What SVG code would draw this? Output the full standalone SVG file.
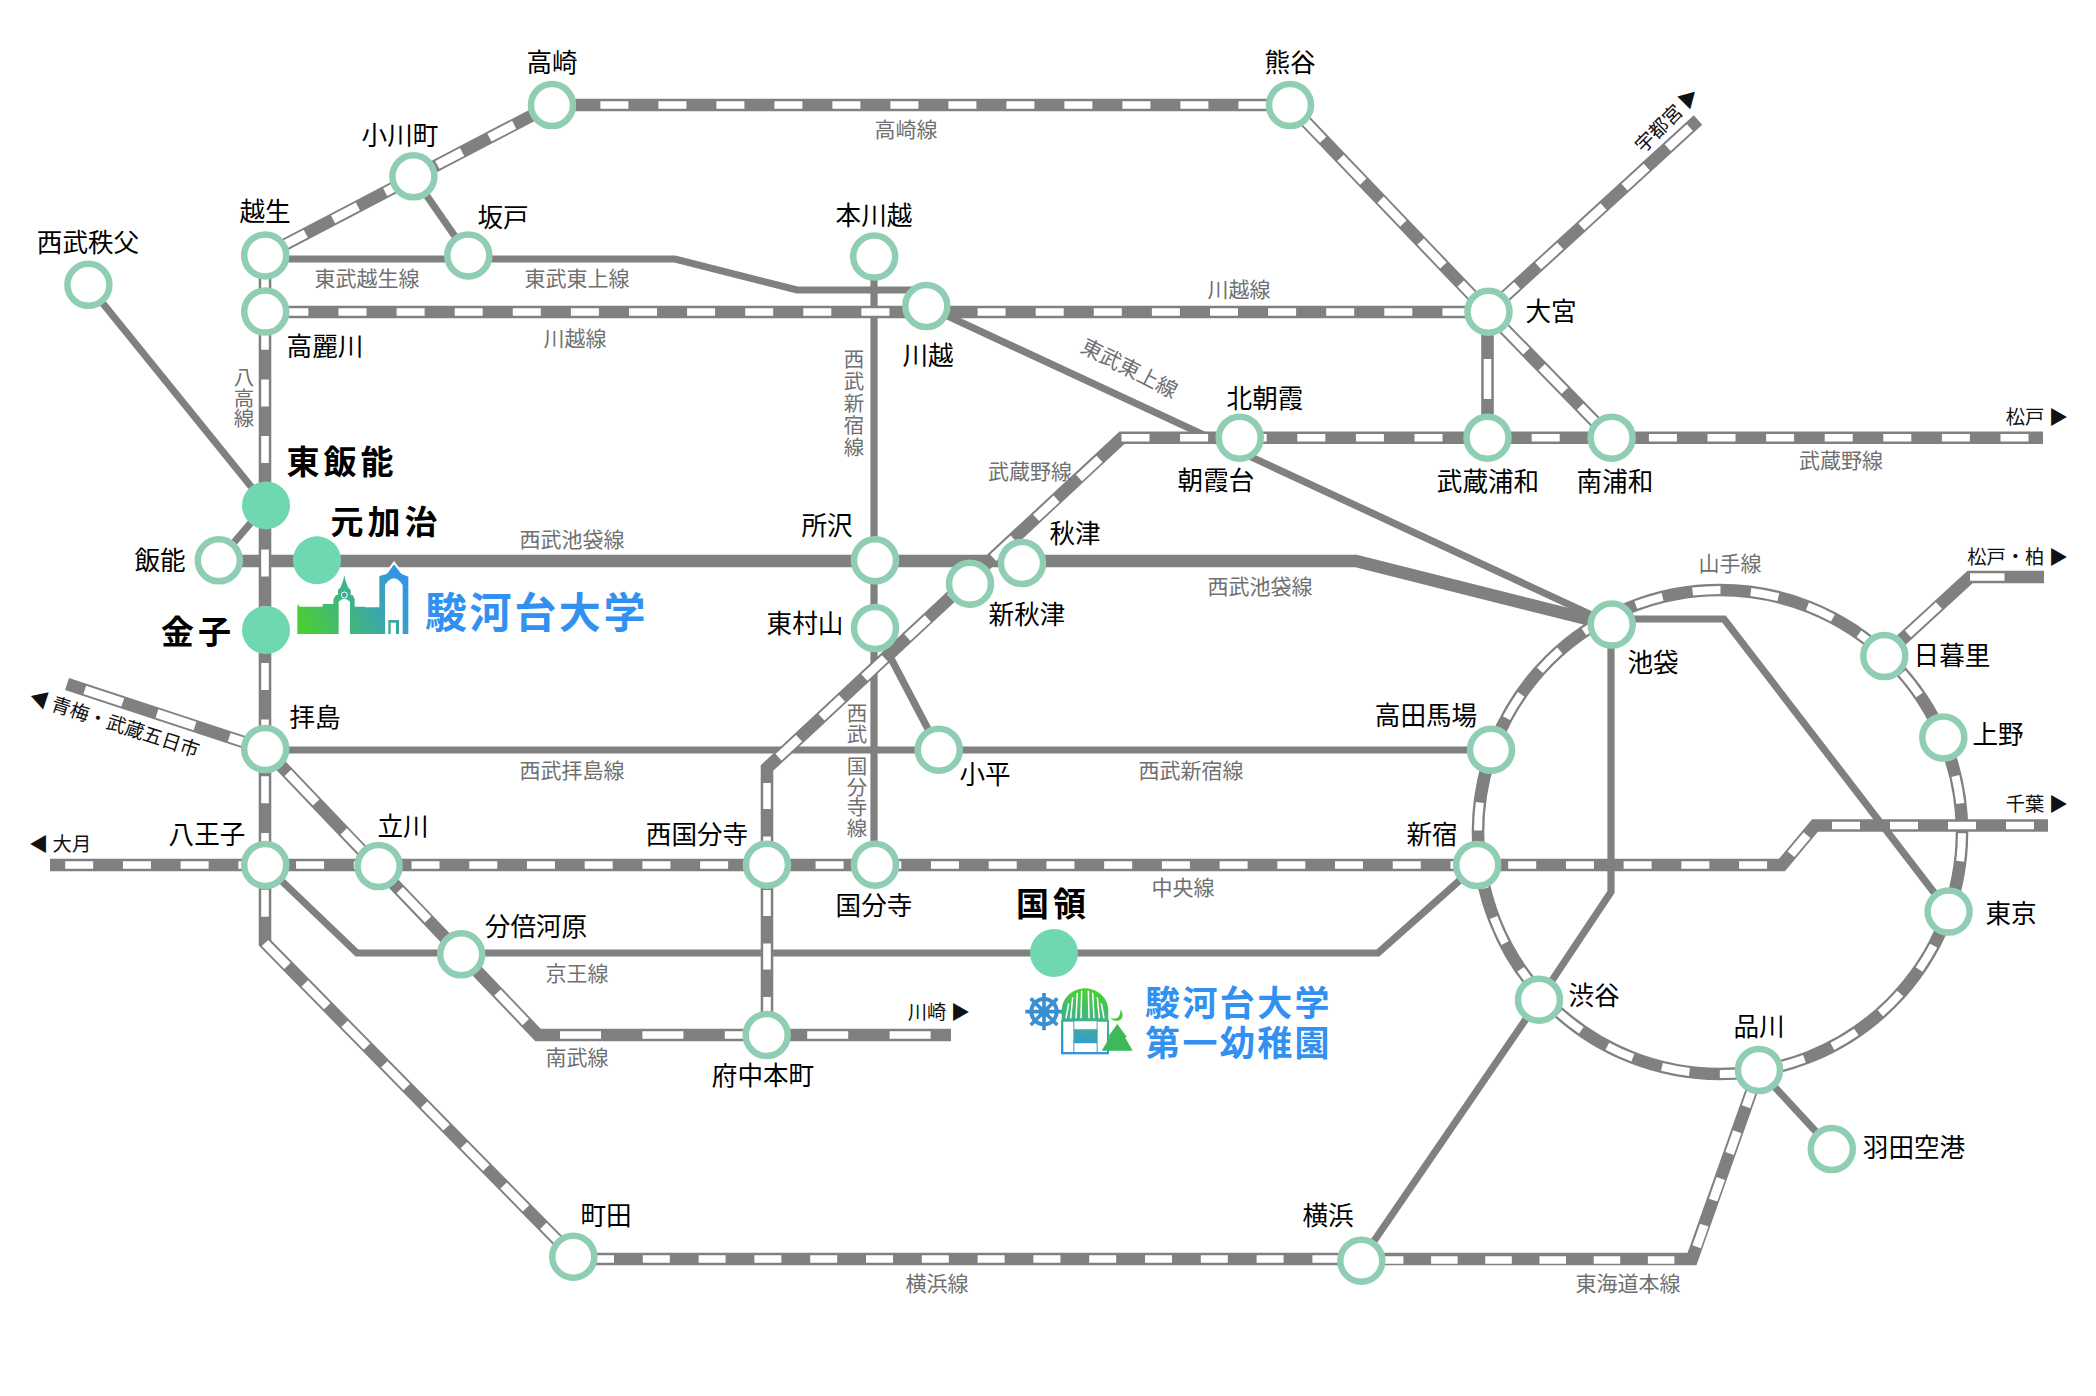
<svg xmlns="http://www.w3.org/2000/svg" width="2096" height="1396" viewBox="0 0 2096 1396">
<style>
text{font-family:"Noto Sans CJK JP","Noto Sans",sans-serif}
.r{fill:none;stroke:#808080;stroke-width:12.600;stroke-linejoin:miter}
.s{fill:none;stroke:#808080;stroke-width:7.200;stroke-linejoin:miter}
.w{fill:none;stroke:#fff;stroke-width:7.600;stroke-dasharray:28 30}
.d{fill:none;stroke:#fff;stroke-width:8.800}
.st{fill:#fff;stroke:#8fceb3;stroke-width:6.500}
.my{fill:#6fd8b0}
.lb{font-size:25.600px;fill:#000;text-anchor:middle}
.big{font-size:33px;font-weight:700;letter-spacing:4px;fill:#000;text-anchor:middle}
.ln{font-size:21px;fill:#707070;text-anchor:middle}
.vt{font-size:20.500px;fill:#707070;writing-mode:vertical-rl;text-anchor:start}
.tm{font-size:19.300px;fill:#111;text-anchor:end}
.sch{font-weight:700;fill:#3291f0}
</style>
<defs>
<linearGradient id="gb" gradientUnits="userSpaceOnUse" x1="142" y1="402" x2="475" y2="230"><stop offset="0" stop-color="#4cd12a"/><stop offset="1" stop-color="#3291f0"/></linearGradient>
<linearGradient id="gk" gradientUnits="userSpaceOnUse" x1="330" y1="115" x2="300" y2="312"><stop offset="0" stop-color="#4cd12a"/><stop offset="1" stop-color="#3291f0"/></linearGradient>
</defs>
<g id="connectors">
<path class="s" d="M88,285L266,505L219,560"/>
<path class="s" d="M265,259H675L797,290H926"/>
<path class="s" d="M413,176L468,255"/>
<path class="s" d="M926,306L1611,624"/>
<path class="s" d="M874,257V865"/>
<path class="s" d="M875,628L939,750"/>
<path class="s" d="M265,750H1491"/>
<path class="s" d="M265,865L357,953H1378L1477,865"/>
<path class="s" d="M1612,619H1724L1949,912"/>
<path class="s" d="M1611,625V892L1539,1000L1361,1260"/>
<path class="s" d="M1759,1070L1832,1149"/>
<path class="r" d="M218,561H1356L1611,625"/>
<path class="r" d="M265,255L552,105H1290L1488,312"/>
<path class="r" d="M265,255V943L573,1256"/>
<path class="r" d="M265,312H1488"/>
<path class="r" d="M1698,120L1488,312"/>
<path class="r" d="M1488,312L1611,438"/>
<path class="r" d="M1487.500,312V438"/>
<path class="r" d="M2043,437.700H1122L767,768V1035"/>
<path class="r" d="M67,684L265,749L538,1035H951"/>
<path class="r" d="M50,865H1782L1815,825.500H2048"/>
<path class="r" d="M1884,656L1970,577H2044"/>
<path class="r" d="M573,1259H1692L1759,1070"/>
<circle class="r" cx="1720" cy="832" r="242"/>
<path class="d" d="M265,255L552,105" style="stroke-dasharray:28 30.800;stroke-dashoffset:-18"/>
<path class="w" d="M552,105H1290" style="stroke-dasharray:28 30;stroke-dashoffset:-48.400"/>
<path class="d" d="M1290,105L1488,312" style="stroke-dasharray:33 25;stroke-dashoffset:-15"/>
<path class="w" d="M265,255V943" style="stroke-dasharray:27 29.700;stroke-dashoffset:-11"/>
<path class="d" d="M265,943L573,1256" style="stroke-dasharray:32 24.700"/>
<path class="w" d="M265,312H1488" style="stroke-dasharray:28 30.100;stroke-dashoffset:-15.400"/>
<path class="d" d="M1488,312L1698,120" style="stroke-dasharray:30 28.500;stroke-dashoffset:-9.500"/>
<path class="d" d="M1488,312L1611,438" style="stroke-dasharray:33 22;stroke-dashoffset:-22"/>
<path class="w" d="M1487.500,312V438" style="stroke-dasharray:40 999;stroke-dashoffset:-47"/>
<path class="w" d="M1121.500,437.700H2043" style="stroke-dasharray:28 30.600"/>
<path class="d" d="M1122,438L767,768" style="stroke-dasharray:28 30.600;stroke-dashoffset:-30.700"/>
<path class="w" d="M767,768V1035" style="stroke-dasharray:26 27.500;stroke-dashoffset:-15"/>
<path class="d" d="M67,684L265,749" style="stroke-dasharray:40 36;stroke-dashoffset:-18.700"/>
<path class="d" d="M265,749L461,954" style="stroke-dasharray:41 40;stroke-dashoffset:-33"/>
<path class="d" d="M461,954L538,1035" style="stroke-dasharray:41 999;stroke-dashoffset:-53"/>
<path class="w" d="M537,1035H951" style="stroke-dasharray:41 41.400;stroke-dashoffset:-23"/>
<path class="w" d="M50,865H1782" style="stroke-dasharray:28 29.720;stroke-dashoffset:-15.200"/>
<path class="d" d="M1782,865L1815,825.500" style="stroke-dasharray:25 999;stroke-dashoffset:-14"/>
<path class="w" d="M1815,825.500H2048" style="stroke-dasharray:28 30;stroke-dashoffset:-17"/>
<path class="d" d="M1884,656L1970,577" style="stroke-dasharray:42 999;stroke-dashoffset:-32.600"/>
<path class="w" d="M1970,577H2044" style="stroke-dasharray:34.500 999"/>
<path class="w" d="M573,1259H1361" style="stroke-dasharray:27 28.800;stroke-dashoffset:-14"/>
<path class="w" d="M1361,1260H1692" style="stroke-dasharray:26.500 27.700;stroke-dashoffset:-15.900"/>
<path class="d" d="M1692,1260L1759,1070" style="stroke-dasharray:23 26.500;stroke-dashoffset:-14"/>
<circle class="w" cx="1720" cy="832" r="242" style="stroke-width:8;stroke-dasharray:28 30.480;stroke-dashoffset:-1.300"/>
</g>
<g id="line-labels">
<text class="ln" x="906" y="137">高崎線</text>
<text class="ln" x="367" y="286">東武越生線</text>
<text class="ln" x="577" y="286">東武東上線</text>
<text class="ln" x="575" y="346">川越線</text>
<text class="ln" x="1239" y="297">川越線</text>
<text class="ln" transform="translate(1126,375) rotate(27)">東武東上線</text>
<text class="ln" x="1030" y="479">武蔵野線</text>
<text class="ln" x="1841" y="468">武蔵野線</text>
<text class="ln" x="572" y="547">西武池袋線</text>
<text class="ln" x="1260" y="594">西武池袋線</text>
<text class="ln" x="572" y="778">西武拝島線</text>
<text class="ln" x="1191" y="778">西武新宿線</text>
<text class="ln" x="1183" y="895">中央線</text>
<text class="ln" x="577" y="981">京王線</text>
<text class="ln" x="577" y="1065">南武線</text>
<text class="ln" x="937" y="1291">横浜線</text>
<text class="ln" x="1628" y="1291">東海道本線</text>
<text class="ln" x="1730" y="571">山手線</text>
<text class="vt" x="244" y="367">八高線</text>
<text class="vt" x="854" y="349" letter-spacing="1.500">西武新宿線</text>
<text class="vt" x="857" y="703">西武</text>
<text class="vt" x="857" y="756">国分寺線</text>
<text class="tm" x="2068" y="424">松戸 ▶</text>
<text class="tm" x="2068" y="564">松戸・柏 ▶</text>
<text class="tm" x="2068" y="811">千葉 ▶</text>
<text class="tm" x="970" y="1019">川崎 ▶</text>
<text class="tm" x="29" y="851" style="text-anchor:start">◀ 大月</text>
<text class="tm" transform="translate(112,730) rotate(18)" style="text-anchor:middle">◀ 青梅・武蔵五日市</text>
<text class="tm" transform="translate(1672,125) rotate(-45)" style="text-anchor:middle">宇都宮 ▶</text>
</g>
<g id="n-takasaki"><circle class="st" cx="552" cy="105" r="21"/><text class="lb" x="552" y="72">高崎</text></g>
<g id="n-ogawamachi"><circle class="st" cx="413.400" cy="176.300" r="21"/><text class="lb" x="400" y="145">小川町</text></g>
<g id="n-ogose"><circle class="st" cx="265.200" cy="255.400" r="21"/><text class="lb" x="265" y="221">越生</text></g>
<g id="n-sakado"><circle class="st" cx="468.300" cy="255.400" r="21"/><text class="lb" x="503" y="227">坂戸</text></g>
<g id="n-chichibu"><circle class="st" cx="88.400" cy="284.800" r="21"/><text class="lb" x="88" y="252">西武秩父</text></g>
<g id="n-komagawa"><circle class="st" cx="265.200" cy="311.600" r="21"/><text class="lb" x="325" y="356">高麗川</text></g>
<g id="n-honkawagoe"><circle class="st" cx="874.200" cy="256.600" r="21"/><text class="lb" x="874" y="225">本川越</text></g>
<g id="n-kawagoe"><circle class="st" cx="926.300" cy="306" r="21"/><text class="lb" x="928" y="365">川越</text></g>
<g id="n-kumagaya"><circle class="st" cx="1290" cy="105" r="21"/><text class="lb" x="1290" y="72">熊谷</text></g>
<g id="n-omiya"><circle class="st" cx="1488.500" cy="311.700" r="21"/><text class="lb" x="1551" y="321">大宮</text></g>
<g id="n-asaka"><circle class="st" cx="1239.700" cy="437.700" r="21"/><text class="lb" x="1265" y="408">北朝霞</text><text class="lb" x="1216" y="490">朝霞台</text></g>
<g id="n-musashiurawa"><circle class="st" cx="1487.500" cy="437.700" r="21"/><text class="lb" x="1488" y="491">武蔵浦和</text></g>
<g id="n-minamiurawa"><circle class="st" cx="1611.600" cy="437.700" r="21"/><text class="lb" x="1615" y="491">南浦和</text></g>
<g id="n-higashihanno"><circle class="my" cx="266" cy="505.400" r="24"/><text class="big" x="342" y="474">東飯能</text></g>
<g id="n-motokaji"><circle class="my" cx="317" cy="560.300" r="24"/><text class="big" x="386" y="534">元加治</text></g>
<g id="n-kaneko"><circle class="my" cx="266" cy="630" r="24"/><text class="big" x="198" y="644">金子</text></g>
<g id="n-hanno"><circle class="st" cx="218.800" cy="560.300" r="21"/><text class="lb" x="160" y="570">飯能</text></g>
<g id="n-tokorozawa"><circle class="st" cx="875" cy="560.300" r="21"/><text class="lb" x="827" y="535">所沢</text></g>
<g id="n-akitsu"><circle class="st" cx="1022" cy="563" r="21"/><text class="lb" x="1075" y="543">秋津</text></g>
<g id="n-shinakitsu"><circle class="st" cx="970" cy="583.700" r="21"/><text class="lb" x="1027" y="624">新秋津</text></g>
<g id="n-higashimurayama"><circle class="st" cx="875" cy="628" r="21"/><text class="lb" x="805" y="633">東村山</text></g>
<g id="n-haijima"><circle class="st" cx="265.200" cy="749" r="21"/><text class="lb" x="315" y="727">拝島</text></g>
<g id="n-kodaira"><circle class="st" cx="938.800" cy="749.700" r="21"/><text class="lb" x="985" y="784">小平</text></g>
<g id="n-takadanobaba"><circle class="st" cx="1491" cy="749.800" r="21"/><text class="lb" x="1426" y="725">高田馬場</text></g>
<g id="n-ikebukuro"><circle class="st" cx="1611.700" cy="624.600" r="21"/><text class="lb" x="1653" y="672">池袋</text></g>
<g id="n-nippori"><circle class="st" cx="1884.300" cy="656" r="21"/><text class="lb" x="1952" y="665">日暮里</text></g>
<g id="n-ueno"><circle class="st" cx="1943.300" cy="737.500" r="21"/><text class="lb" x="1998" y="744">上野</text></g>
<g id="n-hachioji"><circle class="st" cx="265.200" cy="865" r="21"/><text class="lb" x="207" y="844">八王子</text></g>
<g id="n-tachikawa"><circle class="st" cx="378.600" cy="866" r="21"/><text class="lb" x="403" y="836">立川</text></g>
<g id="n-nishikokubunji"><circle class="st" cx="767" cy="864.700" r="21"/><text class="lb" x="697" y="844">西国分寺</text></g>
<g id="n-kokubunji"><circle class="st" cx="875" cy="864.700" r="21"/><text class="lb" x="874" y="915">国分寺</text></g>
<g id="n-shinjuku"><circle class="st" cx="1477.200" cy="865" r="21"/><text class="lb" x="1432" y="844">新宿</text></g>
<g id="n-kokuryo"><circle class="my" cx="1054" cy="953" r="24"/><text class="big" x="1053" y="916">国領</text></g>
<g id="n-tokyo"><circle class="st" cx="1948.600" cy="911.600" r="21"/><text class="lb" x="2011" y="923">東京</text></g>
<g id="n-bubaigawara"><circle class="st" cx="461.200" cy="954.300" r="21"/><text class="lb" x="536" y="936">分倍河原</text></g>
<g id="n-fuchuhonmachi"><circle class="st" cx="766.700" cy="1035" r="21"/><text class="lb" x="763" y="1085">府中本町</text></g>
<g id="n-shibuya"><circle class="st" cx="1539" cy="999.700" r="21"/><text class="lb" x="1594" y="1005">渋谷</text></g>
<g id="n-shinagawa"><circle class="st" cx="1759" cy="1070" r="21"/><text class="lb" x="1759" y="1036">品川</text></g>
<g id="n-haneda"><circle class="st" cx="1831.800" cy="1149" r="21"/><text class="lb" x="1914" y="1157">羽田空港</text></g>
<g id="n-machida"><circle class="st" cx="573.300" cy="1256.700" r="21"/><text class="lb" x="606" y="1225">町田</text></g>
<g id="n-yokohama"><circle class="st" cx="1361.300" cy="1260.700" r="21"/><text class="lb" x="1328" y="1225">横浜</text></g>
<g id="logo-university">
<g transform="translate(250,500) scale(.33333)">
<path fill="url(#gb)" d="M142,402V320L145,312L148,320H218V312H250V298L258,285H264V270L272,262L280,240L283,226L286,240L294,262L302,270V285H308L314,298V320H345V322H388V228L410,222L432,192L455,222L475,230V402H458V255Q432,215 405,255V402H300V305Q282,288 266,305V402Z"/>
<path fill="none" stroke="#fff" stroke-width="6" d="M410,218L432,188L455,218"/>
<circle cx="283" cy="285" r="9" fill="#3aa89a" stroke="#fff" stroke-width="3"/>
<path fill="#3aa89a" d="M415,402V360H447V402H438V368H422V402Z"/>
</g>
<text class="sch" x="425" y="628" font-size="42" letter-spacing="2.600">駿河台大学</text>
</g>
<g id="logo-kindergarten">
<g transform="translate(980,950) scale(.33333)">
<g stroke="#3a8fd0" fill="none">
<circle cx="192" cy="185" r="38" stroke-width="12"/>
<path stroke-width="11" d="M192,129V241M136,185H248M152,145L232,225M232,145L152,225"/>
<circle cx="192" cy="185" r="10" fill="#3a8fd0" stroke-width="12"/>
</g>
<path fill="url(#gk)" d="M245,210V182A70,67 0 0 1 385,182V210Z"/>
<path stroke="#fff" stroke-width="4.500" fill="none" d="M258,205L266,160M272,205L278,142M288,205L292,128M303,205L305,122M327,205L325,122M342,205L338,128M358,205L352,142M372,205L364,160"/>
<rect x="243" y="210" width="144" height="103" fill="url(#gk)"/>
<path fill="#fff" d="M250,215H280V306H250ZM283,214H350V238H283ZM283,280H350V306H283ZM353,215H381V306H353Z"/>
<path fill="#3fb85a" d="M365,302L389,262L383,262L412,222L441,262L435,262L458,302Z"/>
<path fill="#45c83a" d="M392,203Q420,215 422,178Q436,205 415,212Q400,215 392,203Z"/>
</g>
<text class="sch" font-size="35" letter-spacing="2.400"><tspan x="1145" y="1016">駿河台大学</tspan><tspan x="1145" y="1056">第一幼稚園</tspan></text>
</g>
</svg>
